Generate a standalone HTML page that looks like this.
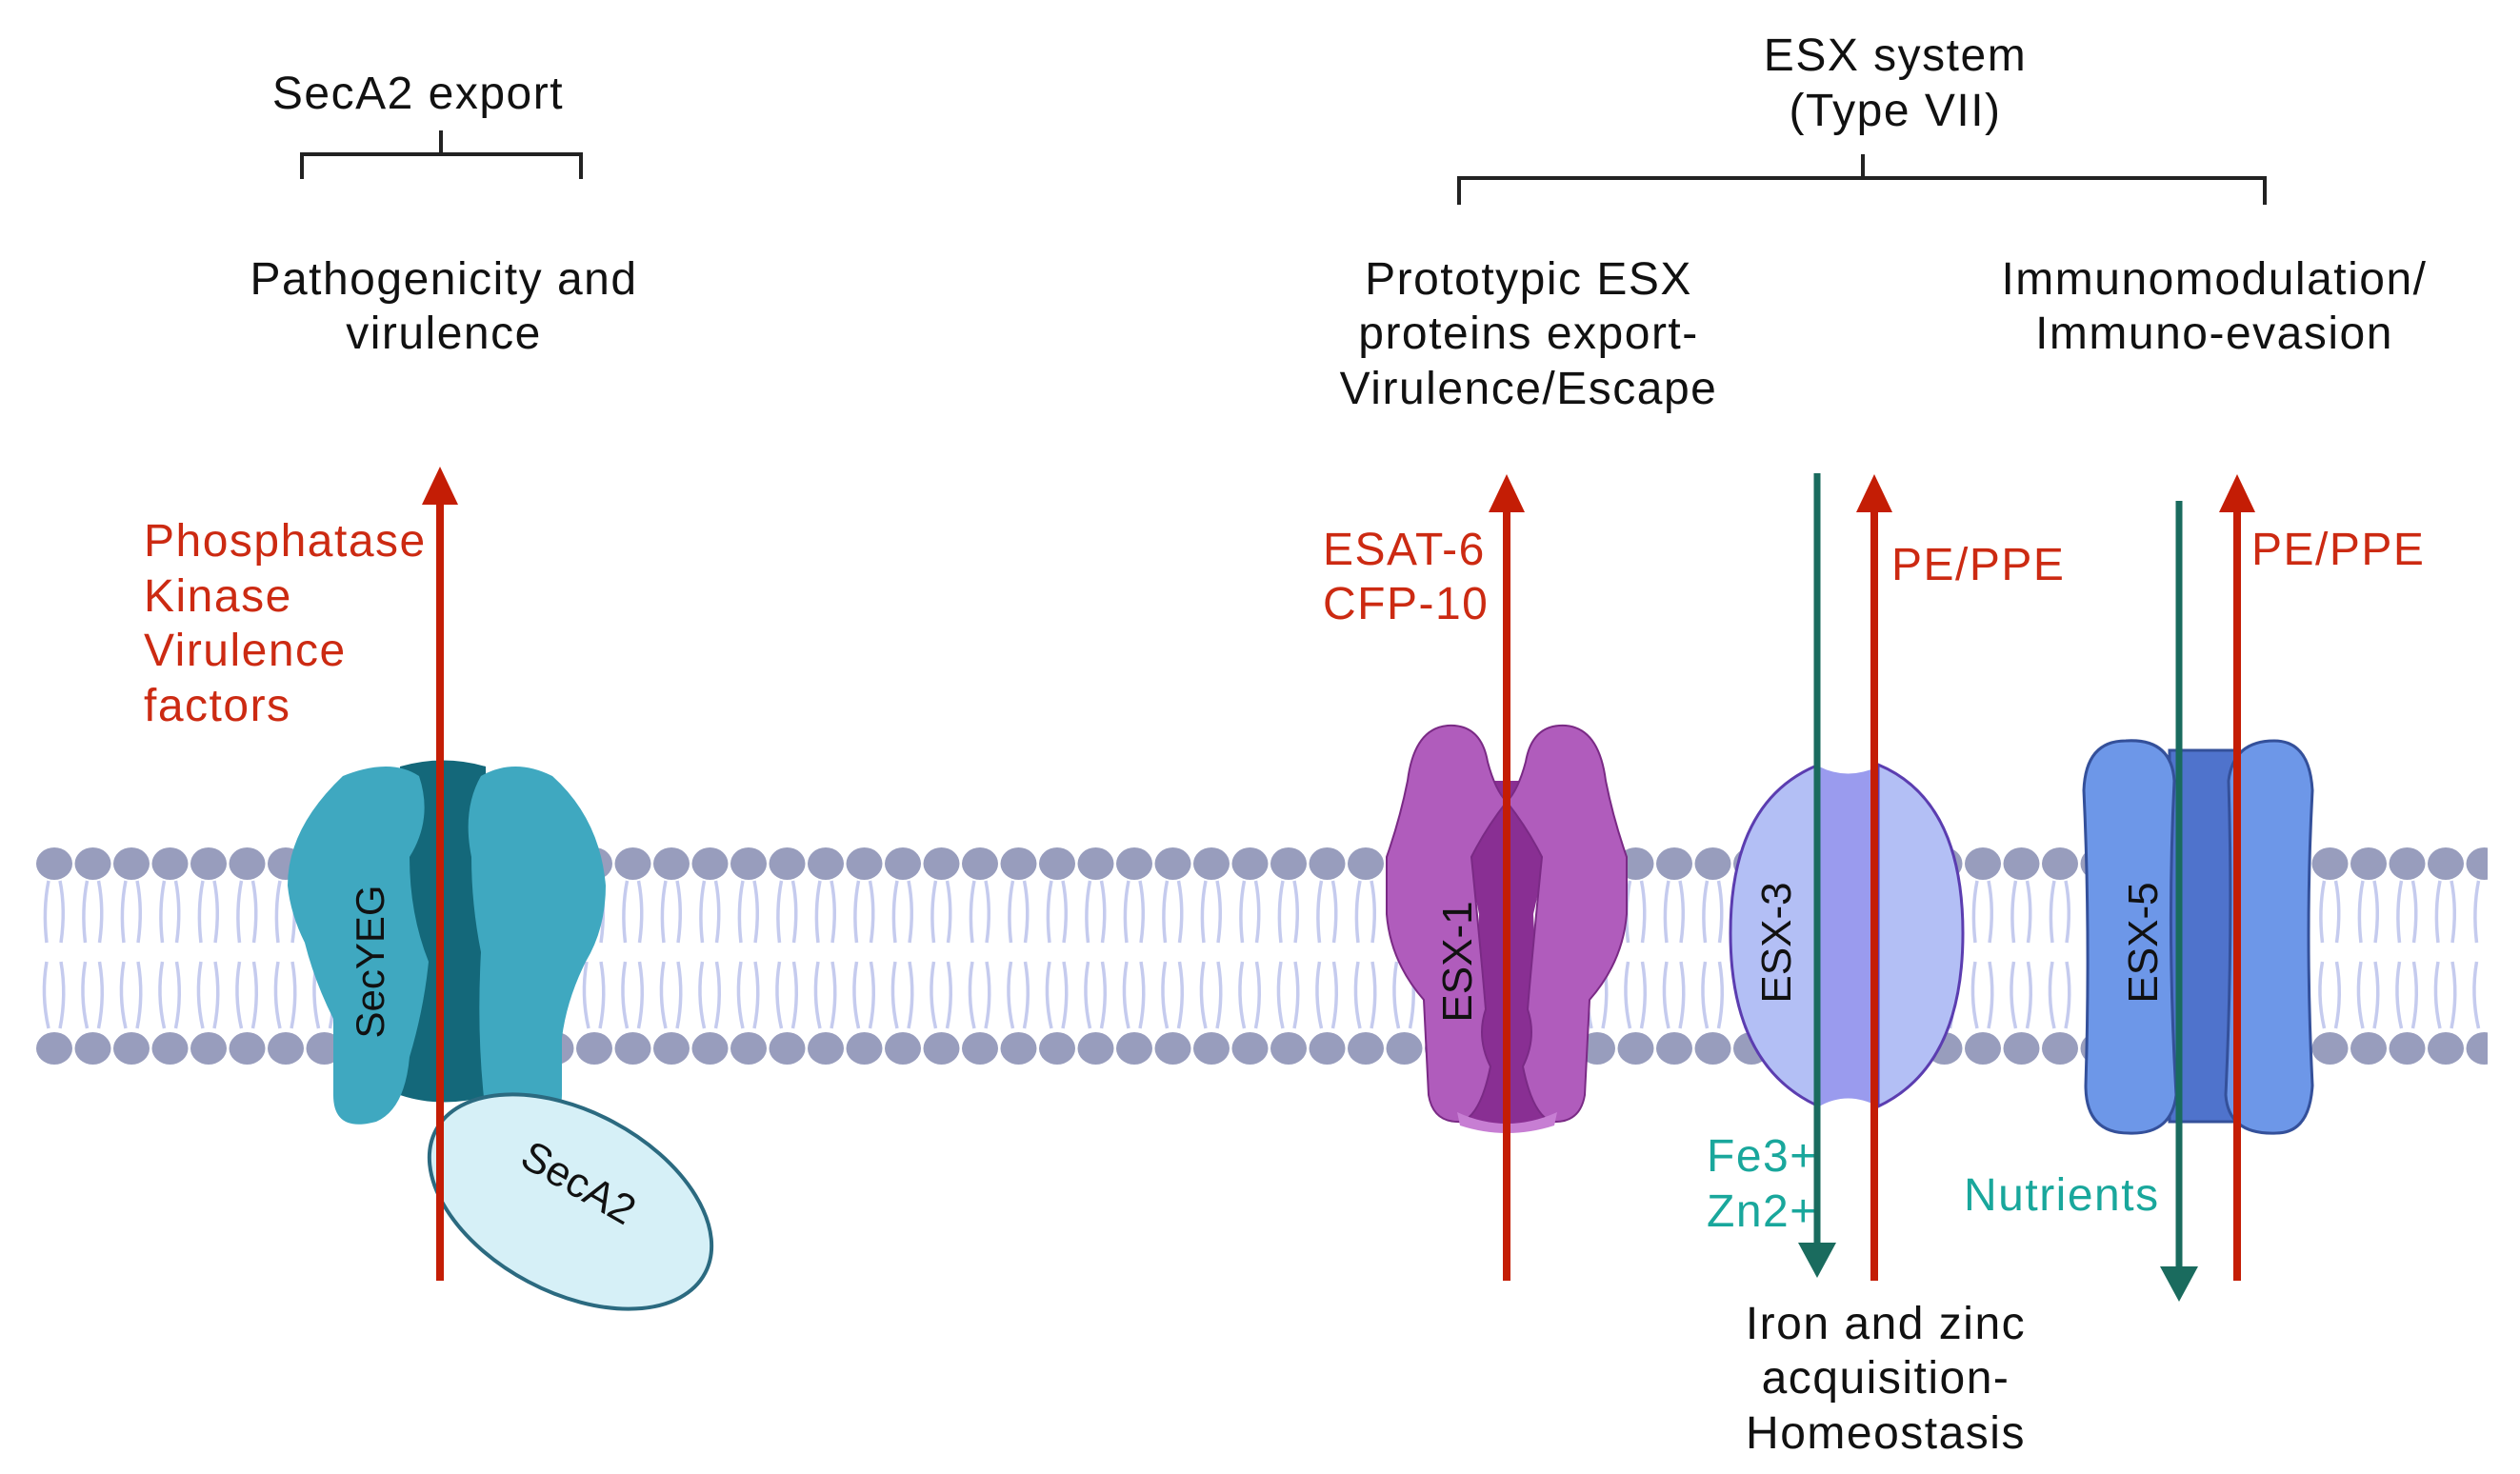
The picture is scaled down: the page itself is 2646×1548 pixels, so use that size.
<!DOCTYPE html>
<html><head><meta charset="utf-8"><style>
html,body{margin:0;padding:0;background:#fff}
svg{display:block}
text{font-family:"Liberation Sans",sans-serif}
</style></head><body>
<svg width="2646" height="1548" viewBox="0 0 2646 1548" xmlns="http://www.w3.org/2000/svg">
<defs>
<pattern id="mem" x="37" y="880" width="40.5" height="250" patternUnits="userSpaceOnUse">
<g fill="none" stroke="#c5cbee" stroke-width="3.5">
<path d="M14 45 Q8 75 12 110"/><path d="M26 45 Q32 75 27 110"/>
<path d="M12 130 Q6 165 14 200"/><path d="M27 130 Q33 165 26 200"/>
</g>
<ellipse cx="20" cy="27" rx="19" ry="17" fill="#989dbd"/>
<ellipse cx="20" cy="221" rx="19" ry="17" fill="#989dbd"/>
</pattern>
</defs>
<rect x="37" y="880" width="2575" height="250" fill="url(#mem)"/>

<g fill="none" stroke="#222" stroke-width="4">
<path d="M317 188 V162 H610 V188 M463 162 V137"/>
<path d="M1532 215 V187 H2378 V215 M1956 187 V162"/>
</g>

<g font-size="48" fill="#111" text-anchor="middle" letter-spacing="1.5">
<text x="439" y="114">SecA2 export</text>
<text x="466" y="309">Pathogenicity and</text>
<text x="466" y="366">virulence</text>
<text x="1990" y="74">ESX system</text>
<text x="1990" y="132">(Type VII)</text>
<text x="1605" y="309">Prototypic ESX</text>
<text x="1605" y="366">proteins export-</text>
<text x="1605" y="424">Virulence/Escape</text>
<text x="2325" y="309">Immunomodulation/</text>
<text x="2325" y="366">Immuno-evasion</text>
<text x="1980" y="1406">Iron and zinc</text>
<text x="1980" y="1463">acquisition-</text>
<text x="1980" y="1521">Homeostasis</text>
</g>

<g font-size="48" fill="#cc2a12" letter-spacing="1.5">
<text x="151" y="584">Phosphatase</text>
<text x="151" y="642">Kinase</text>
<text x="151" y="699">Virulence</text>
<text x="151" y="757">factors</text>
<text x="1389" y="593">ESAT-6</text>
<text x="1389" y="650">CFP-10</text>
<text x="1986" y="609">PE/PPE</text>
<text x="2364" y="593">PE/PPE</text>
</g>
<g font-size="48" fill="#19a79c" letter-spacing="1.5">
<text x="1792" y="1230">Fe3+</text>
<text x="1792" y="1288">Zn2+</text>
<text x="2062" y="1271">Nutrients</text>
</g>

<!-- SecYEG -->
<path d="M420 805 Q465 792 510 805 L515 1150 Q465 1165 420 1150 Z" fill="#14687a"/>
<path d="M360 815 Q410 795 440 815 Q455 860 430 900 Q430 960 450 1010 Q445 1060 430 1110 Q425 1165 395 1178 Q350 1190 350 1150 L350 1070 Q330 1030 320 990 Q305 960 302 930 Q302 870 360 815 Z" fill="#3fa8c0"/>
<path d="M505 815 Q540 795 580 815 Q630 860 636 930 Q636 975 615 1010 Q595 1050 590 1090 L590 1150 Q590 1175 560 1175 L510 1170 Q500 1090 505 1000 Q495 950 495 900 Q485 850 505 815 Z" fill="#3fa8c0"/>
<text transform="translate(403 1010) rotate(-90)" font-size="42" fill="#111" text-anchor="middle">SecYEG</text>
<ellipse cx="599" cy="1262" rx="160" ry="95" transform="rotate(28 599 1262)" fill="#d6f0f7" stroke="#2b6a80" stroke-width="4"/>
<text transform="translate(600 1255) rotate(30)" font-size="44" fill="#111" text-anchor="middle">SecA2</text>

<!-- ESX-1 -->
<path d="M1540 820 L1625 820 Q1625 900 1610 960 Q1615 1060 1622 1110 Q1600 1150 1630 1175 Q1582 1190 1535 1175 Q1562 1150 1542 1110 Q1550 1060 1553 960 Q1540 900 1540 820 Z" fill="#892f93"/>
<path d="M1520 762 Q1555 760 1562 800 Q1570 830 1582 842 Q1560 870 1545 900 Q1555 1000 1560 1060 Q1550 1090 1565 1120 Q1555 1170 1535 1178 Q1505 1180 1500 1150 L1495 1050 Q1460 1010 1456 960 L1456 900 Q1470 860 1478 820 Q1485 765 1520 762 Z" fill="#b05cbc" stroke="#7a2a85" stroke-width="2"/>
<path d="M1644 762 Q1609 760 1602 800 Q1594 830 1582 842 Q1604 870 1619 900 Q1609 1000 1604 1060 Q1614 1090 1599 1120 Q1609 1170 1629 1178 Q1659 1180 1664 1150 L1669 1050 Q1704 1010 1708 960 L1708 900 Q1694 860 1686 820 Q1679 765 1644 762 Z" fill="#b05cbc" stroke="#7a2a85" stroke-width="2"/>
<path d="M1530 1168 Q1582 1192 1635 1168 L1632 1182 Q1582 1198 1533 1182 Z" fill="#c77ed3"/>
<text transform="translate(1545 1010) rotate(-90)" font-size="44" fill="#111" text-anchor="middle">ESX-1</text>

<!-- ESX-3 -->
<path d="M1910 805 Q1940 820 1972 805 L1972 1162 Q1940 1145 1910 1162 Z" fill="#9a9bee"/>
<path d="M1910 803 Q1817 840 1817 980 Q1817 1120 1910 1162 Z" fill="#b3bff5" stroke="#5b3db0" stroke-width="3"/>
<path d="M1972 803 Q2061 840 2061 980 Q2061 1120 1972 1162 Z" fill="#b3bff5" stroke="#5b3db0" stroke-width="3"/>
<text transform="translate(1880 990) rotate(-90)" font-size="44" fill="#111" text-anchor="middle">ESX-3</text>

<!-- ESX-5 -->
<rect x="2278" y="788" width="70" height="390" fill="#4f73cc" stroke="#34509a" stroke-width="3"/>
<path d="M2232 778 Q2280 775 2283 820 Q2275 980 2285 1150 Q2280 1192 2235 1190 Q2190 1190 2190 1140 Q2195 980 2188 830 Q2190 778 2232 778 Z" fill="#6d97e8" stroke="#34509a" stroke-width="3"/>
<path d="M2388 778 Q2425 778 2428 830 Q2420 980 2428 1140 Q2425 1190 2390 1190 Q2340 1192 2337 1150 Q2345 980 2340 820 Q2345 778 2388 778 Z" fill="#6d97e8" stroke="#34509a" stroke-width="3"/>
<text transform="translate(2265 990) rotate(-90)" font-size="44" fill="#111" text-anchor="middle">ESX-5</text>

<g stroke="#c41d05" stroke-width="8">
<line x1="462" y1="520" x2="462" y2="1345"/>
<line x1="1582" y1="528" x2="1582" y2="1345"/>
<line x1="1968" y1="528" x2="1968" y2="1345"/>
<line x1="2349" y1="528" x2="2349" y2="1345"/>
</g>
<g fill="#c41d05">
<path d="M462 490 L481 530 L443 530 Z"/>
<path d="M1582 498 L1601 538 L1563 538 Z"/>
<path d="M1968 498 L1987 538 L1949 538 Z"/>
<path d="M2349 498 L2368 538 L2330 538 Z"/>
</g>
<g stroke="#1a6b5e" stroke-width="7">
<line x1="1908" y1="497" x2="1908" y2="1310"/>
<line x1="2288" y1="526" x2="2288" y2="1335"/>
</g>
<g fill="#1a6b5e">
<path d="M1908 1342 L1888 1305 L1928 1305 Z"/>
<path d="M2288 1367 L2268 1330 L2308 1330 Z"/>
</g>
</svg>
</body></html>
